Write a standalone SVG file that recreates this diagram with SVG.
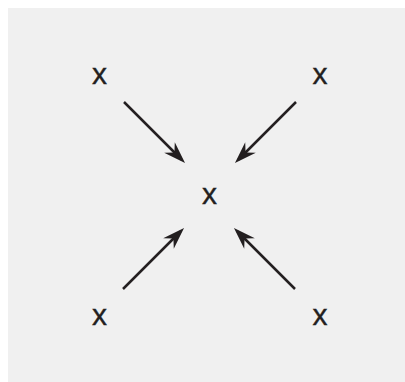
<svg xmlns="http://www.w3.org/2000/svg" width="405" height="382" viewBox="0 0 405 382">
<style>
.lbl{font-family:"Liberation Sans",Arial,sans-serif;font-size:30px;fill:#231f20;stroke:#231f20;stroke-width:0.4;text-anchor:middle}
.conn line{stroke:#231f20;stroke-width:2.5;marker-end:url(#ah)}
</style>
<defs>
<marker id="ah" markerUnits="userSpaceOnUse" markerWidth="40" markerHeight="40" refX="0" refY="0" orient="auto" overflow="visible">
<path d="M5,0 L-17,-7.5 L-10,0 L-17,7.5 Z" fill="#231f20"/>
</marker>
</defs>
<rect x="8" y="8" width="397" height="374" fill="#f0f0f0"/>
<g id="node-tl"><text class="lbl" x="99.5" y="84">x</text></g>
<g id="node-tr"><text class="lbl" x="320" y="84">x</text></g>
<g id="node-c"><text class="lbl" x="209.5" y="204">x</text></g>
<g id="node-bl"><text class="lbl" x="99.5" y="325">x</text></g>
<g id="node-br"><text class="lbl" x="320" y="325">x</text></g>
<g id="connectors" class="conn">
<line x1="124" y1="102" x2="181.5" y2="159.5"/>
<line x1="296" y1="102" x2="238.5" y2="159.5"/>
<line x1="123" y1="289" x2="180.5" y2="231.5"/>
<line x1="295" y1="289" x2="237.5" y2="231.5"/>
</g>
</svg>
